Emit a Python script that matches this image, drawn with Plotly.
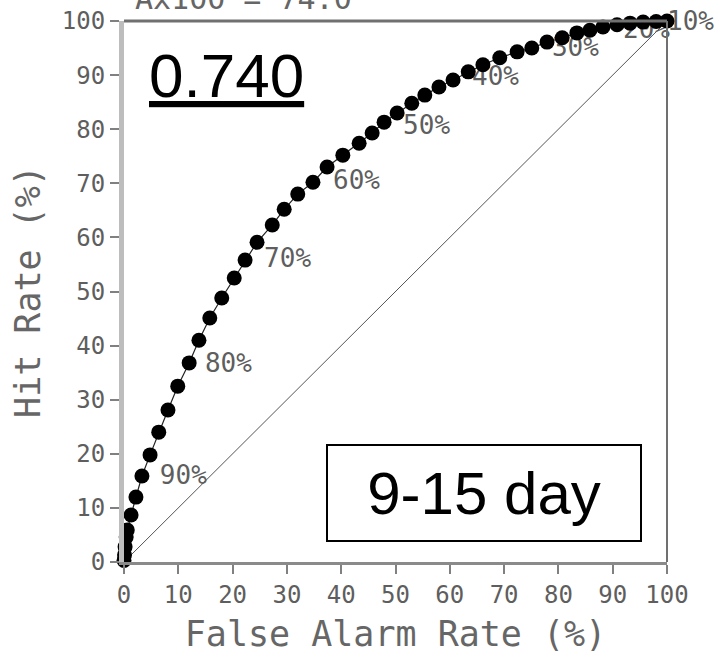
import plotly.graph_objects as go

# ROC points: false alarm rate (%) and hit rate (%)
far = [0.0, 0.1, 0.2, 0.4, 0.6, 1.3, 2.2, 3.3, 4.8, 6.4, 8.1, 9.9, 12.0, 13.8,
       15.8, 18.0, 20.3, 22.3, 24.5, 27.3, 29.5, 32.0, 34.8, 37.4, 40.3, 43.3,
       45.7, 47.9, 50.3, 53.0, 55.4, 58.0, 60.6, 63.4, 66.1, 69.2, 72.4, 75.1,
       77.9, 80.7, 83.4, 85.8, 88.2, 90.8, 93.2, 95.6, 98.0, 100.0]
hit = [0.3, 1.3, 2.8, 4.6, 5.9, 8.7, 12.0, 15.9, 19.8, 24.0, 28.1, 32.5, 36.8, 41.0,
       45.1, 48.8, 52.5, 55.8, 59.1, 62.3, 65.2, 68.0, 70.2, 73.0, 75.2, 77.4,
       79.3, 81.3, 83.0, 84.8, 86.3, 87.8, 89.1, 90.6, 91.9, 93.2, 94.3, 95.0,
       96.1, 96.9, 97.8, 98.3, 98.9, 99.3, 99.6, 99.8, 99.9, 100.0]

# probability threshold labels (left edge of text)
lab_text = ["90%", "80%", "70%", "60%", "50%", "40%", "30%", "20%", "10%"]
lab_x = [6.6, 14.9, 25.8, 38.5, 51.4, 64.1, 78.8, 91.9, 100.0]
lab_y = [15.7, 36.4, 55.8, 70.1, 80.4, 89.3, 94.8, 98.0, 99.6]

diag = [0, 100]
ticks = list(range(0, 101, 10))

score_text = "0.740"
lead_text = "9-15 day"
title_text = "Ax100 = 74.0"

MONO = "DejaVu Sans Mono"
SANS = "Liberation Sans"
GRAY = "#5e5e5e"

fig = go.Figure()

fig.add_trace(go.Scatter(x=diag, y=diag, mode="lines",
                         line=dict(color="#555555", width=1), hoverinfo="skip"))

fig.add_trace(go.Scatter(x=lab_x, y=lab_y, mode="text", text=lab_text,
                         textposition="middle right", cliponaxis=False,
                         textfont=dict(family=MONO, size=26, color=GRAY),
                         hoverinfo="skip"))

fig.add_trace(go.Scatter(x=far, y=hit, mode="lines+markers", cliponaxis=False,
                         line=dict(color="#222222", width=1.2),
                         marker=dict(color="black", size=15)))

fig.add_annotation(x=18.8, y=90.0, xref="x", yref="y",
                   text="<u>" + score_text + "</u>", showarrow=False,
                   xanchor="center", yanchor="middle",
                   font=dict(family=SANS, size=62, color="black"))

fig.add_annotation(x=66.3, y=12.75, xref="x", yref="y", text=lead_text,
                   showarrow=False, xanchor="center", yanchor="middle",
                   width=312, height=94, borderpad=0, bgcolor="white",
                   bordercolor="black", borderwidth=2,
                   font=dict(family=SANS, size=60, color="black"))

fig.add_annotation(x=0.22, y=1.041, xref="paper", yref="paper", text=title_text,
                   showarrow=False, xanchor="center", yanchor="middle",
                   font=dict(family=MONO, size=30, color="#666666"))

# frame top and right
fig.add_shape(type="line", xref="paper", yref="paper", x0=0, x1=1, y0=1, y1=1,
              line=dict(color="#707070", width=3))
fig.add_shape(type="line", xref="paper", yref="paper", x0=1, x1=1, y0=0, y1=1,
              line=dict(color="#707070", width=2))

fig.update_layout(
    width=717, height=654, showlegend=False,
    margin=dict(l=124, r=50, t=21, b=92),
    paper_bgcolor="white", plot_bgcolor="white",
    xaxis=dict(range=[0, 100], tickvals=ticks, ticks="outside", ticklen=9,
               tickwidth=2, tickcolor="#808080", showline=True, automargin=False,
               linecolor="#8a8a8a", linewidth=3, showgrid=False, zeroline=False,
               tickfont=dict(family=MONO, size=24, color=GRAY),
               title=dict(text="False Alarm Rate (%)", standoff=14,
                          font=dict(family=MONO, size=35, color="#666666"))),
    yaxis=dict(range=[0, 100], tickvals=ticks, ticks="outside", ticklen=9,
               tickwidth=2, tickcolor="#808080", showline=True, automargin=False,
               linecolor="#bdbdbd", linewidth=5, showgrid=False, zeroline=False,
               tickfont=dict(family=MONO, size=24, color=GRAY),
               title=dict(text="Hit Rate (%)", standoff=12,
                          font=dict(family=MONO, size=35, color="#666666"))),
)

fig.write_html("out.html")
